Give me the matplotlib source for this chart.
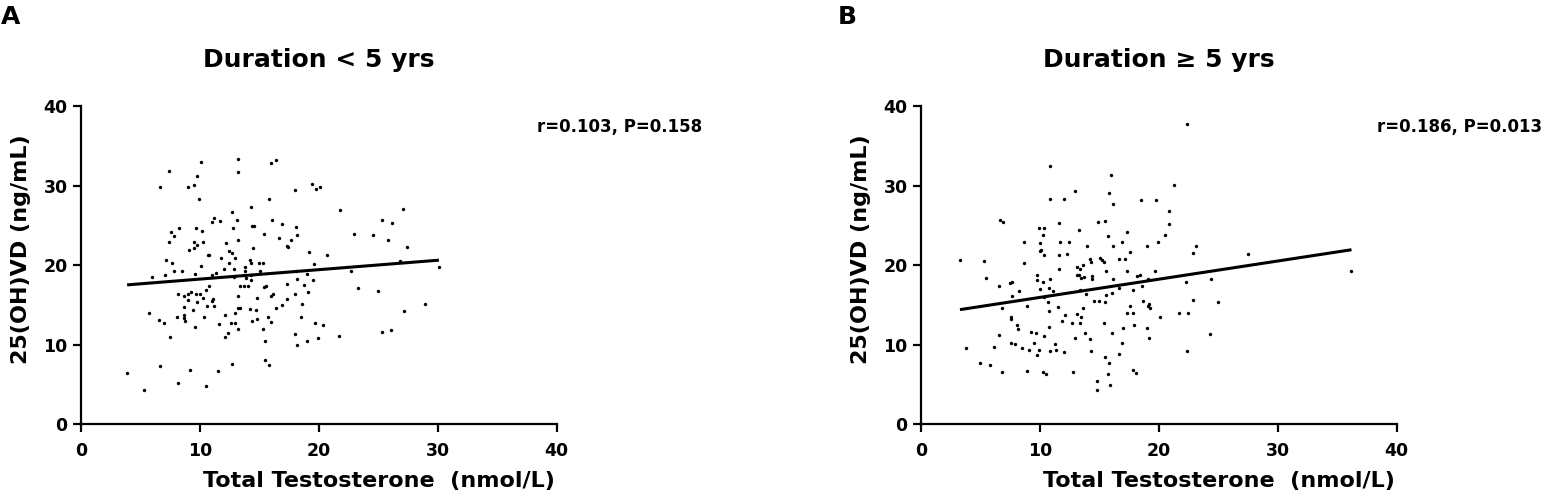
import numpy as np
import matplotlib
matplotlib.use("Agg")
import matplotlib.pyplot as plt

# ---------------- data ----------------
titles = ["Duration < 5 yrs", "Duration \u2265 5 yrs"]
panel_letters = ["A", "B"]
stats_text = ["r=0.103, P=0.158", "r=0.186, P=0.013"]
xlabel = "Total Testosterone  (nmol/L)"
ylabel = "25(OH)VD (ng/mL)"
ticks = [0, 10, 20, 30, 40]

a_x = [10.1, 13.2, 16.0, 16.4, 7.4, 9.8, 13.2, 6.7, 9.0, 9.5, 9.9, 15.8, 14.3, 12.7, 11.2, 11.0,
       11.7, 13.1, 16.1, 8.3, 9.7, 10.2, 12.8, 14.4, 14.6, 7.6, 7.8, 7.4, 9.5, 9.8, 10.3, 9.5,
       9.1, 12.2, 13.2, 15.4, 16.7, 12.5, 12.7, 14.5, 10.7, 10.8, 11.8, 13.0, 7.2, 7.7, 10.1, 12.5,
       14.2, 14.3, 15.0, 15.3, 7.8, 8.5, 12.0, 12.9, 13.8, 13.8, 15.1, 6.0, 7.1, 9.6, 11.0, 11.4,
       12.9, 13.7, 14.3, 13.4, 13.7, 14.1, 14.3, 13.9, 15.4, 15.6, 10.8, 10.5, 10.0, 8.2, 8.7, 9.0,
       9.3, 9.7, 10.3, 11.1, 11.0, 9.0, 9.8, 13.2, 14.8, 16.0, 16.2, 8.7, 9.4, 10.6, 11.2, 13.2,
       13.4, 16.4, 5.7, 6.6, 7.0, 8.1, 8.7, 8.7, 8.8, 10.4, 12.1, 13.0, 14.2, 14.7, 11.6, 12.6,
       13.0, 13.2, 14.4, 14.8, 15.7, 16.0, 9.6, 7.5, 12.1, 12.4, 15.3, 15.5, 6.7, 9.2, 11.5, 12.7,
       15.5, 15.8, 3.9, 8.2, 10.5, 5.3,
       18.0, 19.4, 19.8, 20.1, 21.8, 27.1, 16.9, 18.1, 18.2, 17.7, 17.3, 17.4, 23.0, 24.6, 25.3, 26.2,
       25.8, 27.4, 19.2, 20.7, 19.6, 26.8, 18.1, 19.0, 22.7, 30.1, 18.2, 19.5, 17.3, 18.8, 19.1, 18.0,
       23.3, 25.0, 17.3, 16.9, 18.6, 18.5, 27.2, 28.9, 19.7, 20.4, 18.0, 21.7, 25.3, 26.1, 18.2, 19.0,
       19.9]
a_y = [33.0, 33.3, 32.8, 33.2, 31.8, 31.2, 31.7, 29.8, 29.8, 30.1, 28.3, 28.3, 27.3, 26.7, 25.9, 25.4,
       25.5, 25.6, 25.6, 24.7, 24.6, 24.3, 24.7, 24.9, 24.9, 24.2, 23.6, 22.9, 22.9, 22.5, 22.9, 22.1,
       21.9, 22.8, 23.1, 23.9, 23.4, 21.8, 21.5, 22.1, 21.3, 21.2, 20.9, 20.9, 20.6, 20.3, 19.9, 20.3,
       20.6, 20.2, 20.3, 20.3, 19.3, 19.3, 19.5, 19.5, 19.7, 19.3, 19.3, 18.5, 18.8, 18.9, 18.8, 19.0,
       18.5, 18.7, 18.8, 17.4, 17.3, 17.3, 18.1, 18.4, 17.2, 17.3, 17.3, 16.9, 16.4, 16.3, 16.1, 16.4,
       16.6, 16.4, 15.9, 15.7, 15.5, 15.6, 15.4, 16.1, 15.9, 16.1, 16.4, 14.7, 14.4, 14.9, 14.9, 14.6,
       14.6, 14.6, 14.0, 13.1, 12.7, 13.5, 13.7, 13.3, 13.0, 13.5, 13.7, 14.0, 14.5, 14.4, 12.6, 12.7,
       12.7, 12.0, 13.0, 13.2, 13.4, 12.8, 12.2, 10.9, 10.9, 11.4, 12.0, 10.4, 7.3, 6.8, 6.7, 7.5,
       8.1, 7.4, 6.4, 5.1, 4.8, 4.3,
       29.4, 30.2, 29.6, 29.8, 26.9, 27.1, 25.2, 24.8, 23.8, 23.1, 22.4, 22.3, 23.9, 23.8, 25.7, 25.3,
       23.1, 22.3, 21.6, 21.3, 20.1, 20.5, 19.3, 18.9, 19.2, 19.7, 18.3, 18.1, 17.6, 17.5, 16.6, 16.3,
       17.1, 16.7, 15.7, 15.0, 15.1, 13.5, 14.2, 15.1, 12.7, 12.5, 11.3, 11.1, 11.6, 11.8, 9.9, 10.4,
       10.8]

b_x = [10.9, 16.0, 10.9, 12.0, 13.0, 15.8, 16.2, 6.7, 6.9, 11.6, 14.9, 15.5, 9.9, 10.4, 13.3, 10.3,
       8.7, 10.0, 11.7, 12.5, 15.7, 10.1, 10.0, 10.4, 11.6, 12.3, 14.0, 16.2, 3.3, 5.3, 8.7, 14.2,
       14.3, 15.1, 15.2, 15.4, 16.7, 11.6, 13.1, 13.4, 13.6, 15.6, 5.5, 9.8, 9.8, 10.3, 10.9, 13.1,
       13.3, 13.5, 13.7, 14.4, 14.4, 16.2, 6.6, 7.5, 7.7, 8.3, 10.0, 10.8, 11.1, 13.4, 13.9, 16.1,
       7.7, 10.4, 10.7, 14.6, 15.0, 15.5, 15.6, 6.8, 8.9, 10.8, 11.5, 13.6, 7.6, 7.6, 12.1, 13.1,
       13.5, 13.4, 12.7, 11.9, 15.4, 8.1, 8.2, 10.8, 6.6, 9.3, 9.7, 10.4, 13.8, 14.2, 13.0, 16.1,
       7.6, 7.9, 9.5, 11.3, 3.8, 6.2, 8.5, 9.1, 9.9, 9.8, 10.9, 11.4, 12.0, 14.3, 16.7, 5.0,
       5.8, 15.5, 15.8, 6.8, 8.9, 10.3, 10.5, 12.8, 15.7, 14.8, 15.9, 14.8,
       22.4, 21.3, 18.5, 19.8, 20.9, 20.9, 17.3, 20.5, 16.9, 19.0, 19.9, 23.1, 22.9, 17.6, 17.2, 27.5,
       17.3, 19.7, 18.2, 18.4, 16.7, 19.1, 18.6, 17.8, 22.3, 24.4, 36.2, 18.7, 19.2, 19.1, 19.3, 22.9,
       25.0, 17.6, 17.3, 17.8, 20.1, 21.7, 22.5, 17.0, 17.9, 19.0, 19.2, 24.3, 16.9, 22.4, 17.8, 18.1]
b_y = [32.5, 31.3, 28.3, 28.3, 29.3, 29.1, 27.7, 25.6, 25.4, 25.3, 25.4, 25.5, 24.6, 24.7, 24.4, 23.8,
       22.9, 22.8, 22.9, 22.9, 23.6, 21.9, 21.7, 21.3, 21.2, 21.4, 22.4, 22.4, 20.6, 20.5, 20.2, 20.7,
       20.4, 20.9, 20.6, 20.4, 20.8, 19.5, 19.8, 19.5, 20.0, 19.3, 18.4, 18.7, 18.1, 17.9, 18.3, 18.8,
       18.8, 18.4, 18.5, 18.6, 18.2, 18.3, 17.4, 17.7, 17.8, 16.7, 17.0, 17.1, 16.7, 16.9, 16.3, 16.5,
       16.1, 16.0, 15.4, 15.5, 15.5, 15.4, 16.2, 14.6, 14.8, 14.2, 14.7, 14.6, 13.4, 13.2, 13.7, 13.8,
       13.4, 12.7, 12.7, 12.9, 12.7, 12.5, 12.0, 12.2, 11.2, 11.6, 11.4, 11.1, 11.4, 10.7, 10.8, 11.4,
       10.2, 10.1, 10.2, 10.1, 9.5, 9.7, 9.6, 9.3, 9.3, 8.7, 9.2, 9.3, 9.1, 9.2, 8.8, 7.7,
       7.4, 8.4, 7.7, 6.5, 6.7, 6.6, 6.3, 6.5, 6.3, 5.4, 4.9, 4.3,
       37.7, 30.1, 28.2, 28.2, 26.8, 25.2, 24.1, 23.8, 22.9, 22.4, 22.9, 22.4, 21.5, 21.6, 20.8, 21.4,
       19.2, 19.2, 18.6, 18.7, 17.1, 18.2, 17.3, 16.8, 17.8, 18.2, 19.3, 15.5, 15.1, 14.9, 14.6, 15.6,
       15.3, 14.8, 13.9, 13.9, 13.4, 14.0, 14.0, 12.1, 12.4, 12.1, 10.8, 11.3, 10.2, 9.2, 6.8, 6.4]

datasets = [(a_x, a_y), (b_x, b_y)]

# ---------------- figure ----------------
W, H = 1544, 498
plt.rcParams['font.family'] = ['DejaVu Sans']
plt.rcParams['font.weight'] = 'bold'
fig = plt.figure(figsize=(W / 100, H / 100), dpi=100)
fig.patch.set_facecolor('white')

ax_left_px = [80.7, 920.7]
ax_w_px, ax_top_px, ax_bot_px = 476.0, 106.0, 424.0

for i, (xs, ys) in enumerate(datasets):
    xs = np.asarray(xs)
    ys = np.asarray(ys)
    ax = fig.add_axes([ax_left_px[i] / W, (H - ax_bot_px) / H,
                       ax_w_px / W, (ax_bot_px - ax_top_px) / H])
    ax.scatter(xs, ys, s=6, color='black', linewidths=0, clip_on=False, zorder=3)
    slope, intercept = np.polyfit(xs, ys, 1)
    xl = np.array([xs.min(), xs.max()])
    ax.plot(xl, slope * xl + intercept, color='black', lw=2.2, solid_capstyle='butt', zorder=2)

    ax.set_xlim(0, 40)
    ax.set_ylim(0, 40)
    ax.set_xticks(ticks)
    ax.set_yticks(ticks)
    for s in ['top', 'right']:
        ax.spines[s].set_visible(False)
    for s in ['left', 'bottom']:
        ax.spines[s].set_linewidth(1.6)
    ax.tick_params(axis='both', direction='out', length=6, width=1.6, labelsize=12.5)
    ax.tick_params(axis='x', pad=7)
    ax.tick_params(axis='y', pad=3.5)
    for lab in ax.get_xticklabels() + ax.get_yticklabels():
        lab.set_fontweight('bold')

    off = ax_left_px[i] - 80.7
    # title
    fig.text((318.7 + off) / W, 1 - 67 / H, titles[i], ha='center', va='baseline',
             fontsize=18, fontweight='bold')
    # panel letter
    fig.text((1 + off - (3 if i else 0)) / W, 1 - 24 / H, panel_letters[i], ha='left', va='baseline',
             fontsize=18, fontweight='bold')
    # stats
    fig.text((536.7 + off) / W, 1 - 126.7 / H, stats_text[i], ha='left', va='center',
             fontsize=12, fontweight='bold')
    # axis labels
    fig.text((379 + off) / W, 1 - 486.7 / H, xlabel, ha='center', va='baseline',
             fontsize=16, fontweight='bold')
    fig.text((21 + off) / W, 1 - 249 / H, ylabel, ha='center', va='center', rotation=90,
             fontsize=16, fontweight='bold')

fig.savefig('out.png', dpi=100, facecolor='white')
